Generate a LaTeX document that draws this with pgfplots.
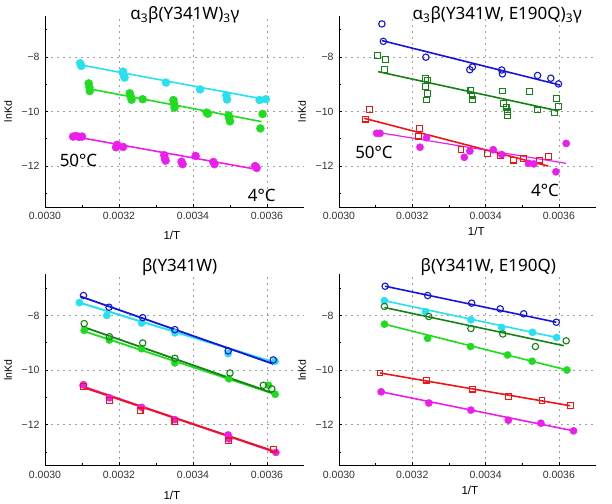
\documentclass[border=0pt]{standalone}
\usepackage{fontspec}
\setmainfont{Noto Sans}
\newfontfamily\axfont{Liberation Sans}
\usepackage{pgfplots}
\pgfplotsset{compat=1.18}

\definecolor{cyanC}{RGB}{40,225,240}
\definecolor{greenC}{RGB}{30,220,30}
\definecolor{magC}{RGB}{235,30,235}
\definecolor{blueC}{RGB}{20,20,220}
\definecolor{dgreenC}{RGB}{20,130,20}
\definecolor{redC}{RGB}{240,20,20}

\newcommand{\bigtext}{\fontsize{17bp}{20bp}\selectfont}

\pgfplotsset{
  panel/.style={
    scale only axis, height=191bp, clip=false,
    xmin=0.0030, xmax=0.0037, ymin=-13.5, ymax=-6.5,
    axis x line*=bottom, axis y line*=left,
    scaled x ticks=false,
    xtick={0.0030,0.0032,0.0034,0.0036},
    xticklabels={0.0030,0.0032,0.0034,0.0036},
    minor xtick={0.0031,0.0033,0.0035},
    ytick={-12,-10,-8}, yticklabels={−12,−10,−8},
    minor ytick={-13,-11,-9,-7},
    grid=major,
    major grid style={gray!75, dash pattern=on 2bp off 4bp, line width=0.6bp},
    axis line style={black, line width=0.8bp},
    tick style={black, line width=0.6bp},
    major tick length=3bp, minor tick length=2bp,
    tick label style={font=\axfont\fontsize{10.5bp}{12bp}\selectfont, black!80},
    xticklabel style={yshift=-2bp},
    yticklabel style={xshift=-2bp},
  },
  fc/.style={only marks, mark=*, mark size=3.6bp, mark options={draw=#1, fill=#1}},
  oc/.style={only marks, mark=o, mark size=3.2bp, mark options={draw=#1, line width=1.1bp}},
  osq/.style={only marks, mark=square, mark size=2.9bp, mark options={draw=#1, line width=1.1bp, rounded corners=1bp}},
  fit/.style={no markers, draw=#1, line width=1.6bp},
}

\newcommand{\labels}[2]{%
  \node[rotate=90, font=\axfont\fontsize{10.5bp}{12bp}\selectfont] at ([xshift=-37bp]rel axis cs:0,0.5) {lnKd};
  \node[font=\axfont\fontsize{11.5bp}{13bp}\selectfont] at ([yshift=-#2bp]rel axis cs:#1,0) {1/T};
}

\begin{document}
\begin{tikzpicture}
\useasboundingbox (0,0) rectangle (612bp,504bp);

% ---------- alpha3 beta(Y341W)3 gamma ----------
\begin{axis}[panel, width=259bp, at={(45bp,297bp)}, anchor=south west]
\addplot[fc=cyanC, mark size=4bp] coordinates {(0.003095,-8.23) (0.003098,-8.33) (0.003211,-8.54) (0.003213,-8.66) (0.003215,-8.76) (0.003327,-8.94) (0.003419,-9.19) (0.003490,-9.40) (0.003492,-9.56) (0.003580,-9.58) (0.003597,-9.55)};
\addplot[fit=cyanC] coordinates {(0.003095,-8.29) (0.003599,-9.57)};
\addplot[fc=greenC, mark size=4bp] coordinates {(0.003118,-8.97) (0.003120,-9.12) (0.003121,-9.25) (0.003229,-9.33) (0.003232,-9.46) (0.003234,-9.57) (0.003264,-9.55) (0.003347,-9.58) (0.003349,-9.72) (0.003350,-9.86) (0.003437,-10.04) (0.003440,-10.08) (0.003496,-10.14) (0.003498,-10.25) (0.003500,-10.36) (0.003588,-10.09) (0.003582,-10.62)};
\addplot[fit=greenC] coordinates {(0.003112,-9.15) (0.003585,-10.37)};
\addplot[fc=magC, mark size=4bp] coordinates {(0.003076,-10.92) (0.003084,-10.90) (0.003092,-10.93) (0.003100,-10.92) (0.003192,-11.31) (0.003195,-11.22) (0.003211,-11.30) (0.003322,-11.60) (0.003324,-11.72) (0.003326,-11.80) (0.003369,-11.84) (0.003372,-11.93) (0.003407,-11.63) (0.003455,-11.85) (0.003458,-11.93) (0.003568,-12.00) (0.003572,-12.07)};
\addplot[fit=magC] coordinates {(0.003072,-10.90) (0.003572,-12.12)};
\labels{0.49}{28}
\node[font=\bigtext] at (rel axis cs:0.54,1.005) {α\textsubscript{3}β(Y341W)\textsubscript{3}γ};
\node[font=\bigtext] at (axis cs:0.0030905,-11.78) {50°C};
\node[font=\bigtext] at (axis cs:0.003586,-13.06) {4°C};
\end{axis}

% ---------- alpha3 beta(Y341W, E190Q)3 gamma ----------
\begin{axis}[panel, width=256.5bp, at={(339bp,297bp)}, anchor=south west]
\addplot[oc=blueC] coordinates {(0.003117,-6.79) (0.003121,-7.43) (0.003237,-8.01) (0.003357,-8.47) (0.003364,-8.37) (0.003444,-8.48) (0.003446,-8.62) (0.003542,-8.68) (0.003578,-8.78) (0.003599,-8.99)};
\addplot[fit=blueC] coordinates {(0.003117,-7.40) (0.003603,-9.03)};
\addplot[osq=dgreenC] coordinates {(0.003106,-7.96) (0.003126,-8.10) (0.003124,-8.45) (0.003237,-8.78) (0.003242,-8.87) (0.003237,-9.09) (0.003241,-9.33) (0.003239,-9.58) (0.003360,-9.22) (0.003363,-9.40) (0.003365,-9.55) (0.003447,-9.25) (0.003448,-9.70) (0.003456,-9.84) (0.003460,-10.00) (0.003460,-10.15) (0.003520,-9.28) (0.003542,-9.94) (0.003588,-10.04) (0.003594,-9.53) (0.003599,-9.82)};
\addplot[fit=dgreenC] coordinates {(0.003107,-8.54) (0.003599,-9.98)};
\addplot[osq=redC] coordinates {(0.003083,-9.92) (0.003073,-10.28) (0.003219,-10.62) (0.003217,-10.90) (0.003333,-11.39) (0.003405,-11.54) (0.003441,-11.60) (0.003476,-11.78) (0.003503,-11.72) (0.003547,-11.78) (0.003571,-11.66)};
\addplot[fit=redC] coordinates {(0.003069,-10.25) (0.003571,-12.00)};
\addplot[fc=magC] coordinates {(0.003103,-10.80) (0.003112,-10.80) (0.003221,-11.31) (0.003239,-10.96) (0.003342,-11.68) (0.003357,-11.45) (0.003421,-11.40) (0.003444,-11.58) (0.003517,-11.90) (0.003532,-11.92) (0.003592,-12.21) (0.003620,-11.17)};
\addplot[fit=magC, line width=1.2bp] coordinates {(0.003094,-10.74) (0.003620,-11.90)};
\labels{0.535}{24}
\node[font=\bigtext] at (rel axis cs:0.617,1.005) {α\textsubscript{3}β(Y341W, E190Q)\textsubscript{3}γ};
\node[font=\bigtext] at (axis cs:0.0030955,-11.49) {50°C};
\node[font=\bigtext] at (axis cs:0.003562,-12.88) {4°C};
\end{axis}

% ---------- beta(Y341W) ----------
\begin{axis}[panel, width=259bp, at={(45bp,38.5bp)}, anchor=south west]
\addplot[fc=cyanC] coordinates {(0.003093,-7.53) (0.003167,-8.00) (0.003261,-8.28) (0.003351,-8.64) (0.003495,-9.40) (0.003622,-9.68)};
\addplot[fit=cyanC, line width=2bp] coordinates {(0.003093,-7.53) (0.003620,-9.72)};
\addplot[oc=blueC] coordinates {(0.003104,-7.27) (0.003173,-7.70) (0.003264,-8.08) (0.003351,-8.52) (0.003495,-9.30) (0.003617,-9.63)};
\addplot[fit=blueC, line width=1.8bp] coordinates {(0.003095,-7.30) (0.003617,-9.78)};
\addplot[fc=greenC] coordinates {(0.003106,-8.55) (0.003174,-8.90) (0.003261,-9.22) (0.003351,-9.74) (0.003497,-10.32) (0.003604,-10.56) (0.003622,-10.89)};
\addplot[fit=greenC, line width=1.8bp] coordinates {(0.003099,-8.55) (0.003622,-10.89)};
\addplot[oc=dgreenC] coordinates {(0.003106,-8.30) (0.003174,-8.78) (0.003264,-9.01) (0.003351,-9.57) (0.003500,-10.11) (0.003590,-10.56) (0.003613,-10.69)};
\addplot[fit=dgreenC, line width=1.8bp] coordinates {(0.003099,-8.40) (0.003617,-10.85)};
\addplot[fc=magC] coordinates {(0.003104,-10.54) (0.003174,-11.02) (0.003261,-11.37) (0.003351,-11.82) (0.003495,-12.38) (0.003497,-12.52) (0.003624,-13.02)};
\addplot[fit=magC, line width=2bp] coordinates {(0.003093,-10.56) (0.003624,-13.02)};
\addplot[osq=redC] coordinates {(0.003104,-10.60) (0.003174,-11.12) (0.003257,-11.50) (0.003351,-11.90) (0.003495,-12.60) (0.003617,-12.90)};
\addplot[fit=redC, line width=1.8bp] coordinates {(0.003100,-10.62) (0.003620,-12.98)};
\labels{0.49}{30}
\node[font=\bigtext] at (rel axis cs:0.52,1.037) {β(Y341W)};
\end{axis}

% ---------- beta(Y341W, E190Q) ----------
\begin{axis}[panel, width=256.5bp, at={(339bp,38.5bp)}, anchor=south west]
\addplot[oc=blueC] coordinates {(0.003126,-6.93) (0.003242,-7.27) (0.003362,-7.55) (0.003440,-7.76) (0.003504,-7.94) (0.003593,-8.25)};
\addplot[fit=blueC] coordinates {(0.003126,-6.93) (0.003593,-8.25)};
\addplot[fc=cyanC] coordinates {(0.003124,-7.46) (0.003236,-7.86) (0.003360,-8.16) (0.003444,-8.44) (0.003528,-8.62) (0.003594,-8.81)};
\addplot[fit=cyanC] coordinates {(0.003124,-7.46) (0.003594,-8.81)};
\addplot[oc=dgreenC] coordinates {(0.003124,-7.67) (0.003245,-8.04) (0.003360,-8.48) (0.003447,-8.68) (0.003536,-9.14) (0.003620,-8.93)};
\addplot[fit=dgreenC] coordinates {(0.003124,-7.71) (0.003614,-9.11)};
\addplot[fc=greenC] coordinates {(0.003124,-8.32) (0.003242,-8.84) (0.003359,-9.14) (0.003460,-9.45) (0.003527,-9.68) (0.003622,-10.00)};
\addplot[fit=greenC] coordinates {(0.003124,-8.32) (0.003622,-10.00)};
\addplot[osq=redC] coordinates {(0.003112,-10.11) (0.003239,-10.37) (0.003365,-10.70) (0.003462,-10.97) (0.003554,-11.12) (0.003631,-11.31)};
\addplot[fit=redC] coordinates {(0.003112,-10.11) (0.003631,-11.31)};
\addplot[fc=magC] coordinates {(0.003115,-10.80) (0.003245,-11.21) (0.003360,-11.47) (0.003462,-11.84) (0.003551,-11.95) (0.003640,-12.23)};
\addplot[fit=magC] coordinates {(0.003115,-10.80) (0.003640,-12.23)};
\labels{0.51}{25}
\node[font=\bigtext] at (rel axis cs:0.582,1.037) {β(Y341W, E190Q)};
\end{axis}
\end{tikzpicture}
\end{document}
